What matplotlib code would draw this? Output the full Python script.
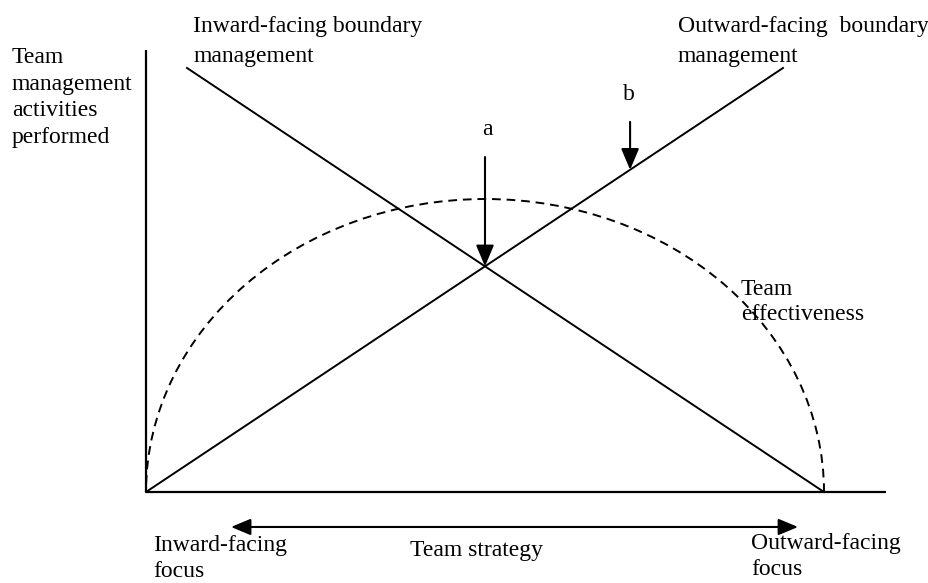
import matplotlib
matplotlib.use("Agg")
import matplotlib.pyplot as plt
from matplotlib.patches import Arc, FancyArrowPatch

plt.rcParams['font.family'] = ['Liberation Serif', 'DejaVu Serif']

# team strategy runs from 0 (inward-facing focus) to 1 (outward-facing focus)
inward_x = [0.0605, 1.0]
inward_y = [1.0, 0.0]
outward_x = [0.0, 0.9395]
outward_y = [0.0, 1.0]
effectiveness_peak = 0.691
axis_x_end = 1.091
axis_y_end = 1.042

# points a and b : strategy position and top of arrow
point_a = 0.5
point_a_top = 0.790
point_b = 0.714
point_b_top = 0.873

strategy_range = [0.1254, 0.9617]
strategy_y = -0.0825


def px(x):
    return (x - 146) / 678.0


def py(y):
    return (492 - y) / 424.0


def fleche(ax, x0, y0, x1, y1, hl=13, hw=5.5):
    a = FancyArrowPatch((x0, y0), (x1, y1),
                        arrowstyle="-|>,head_length=%s,head_width=%s" % (hl, hw),
                        mutation_scale=1, color="black", lw=1.5,
                        shrinkA=0, shrinkB=0)
    ax.add_patch(a)


fig = plt.figure(figsize=(9.29, 5.83), dpi=100)
ax = fig.add_axes([0, 0, 1, 1])
ax.set_xlim(px(0), px(929))
ax.set_ylim(py(583), py(0))
ax.axis("off")

# axes of the diagram
ax.plot([0, axis_x_end], [0, 0], color="black", lw=1.6, solid_capstyle="butt")
ax.plot([0, 0], [0, axis_y_end], color="black", lw=1.6, solid_capstyle="butt")

ax.plot(inward_x, inward_y, color="black", lw=1.4)
ax.plot(outward_x, outward_y, color="black", lw=1.4)

arc = Arc((0.5, 0), 1.0, 2 * effectiveness_peak, theta1=0, theta2=180,
          color="black", lw=1.4, linestyle=(0, (4.5, 3)))
ax.add_patch(arc)

# intersection of the two lines at point a
slope = outward_y[1] / outward_x[1]
fleche(ax, point_a, point_a_top, point_a, point_a * slope)
fleche(ax, point_b, point_b_top, point_b, point_b * slope)

# team strategy double arrow
a = FancyArrowPatch((strategy_range[0], strategy_y), (strategy_range[1], strategy_y),
                    arrowstyle="<|-|>,head_length=12,head_width=5",
                    mutation_scale=1, color="black", lw=1.5,
                    shrinkA=0, shrinkB=0)
ax.add_patch(a)

# va baseline = baseline of the last line
fs = 17
ax.text(px(12), py(143), "Team\nmanagement\nactivities\nperformed", fontsize=fs,
        ha="left", va="baseline", linespacing=1.35)
ax.text(px(193), py(62), "Inward-facing boundary\nmanagement", fontsize=fs,
        ha="left", va="baseline", linespacing=1.55)
ax.text(px(678), py(62), "Outward-facing  boundary\nmanagement", fontsize=fs,
        ha="left", va="baseline", linespacing=1.55)
ax.text(px(487), py(135), "a", fontsize=fs, ha="center", va="baseline")
ax.text(px(629), py(100), "b", fontsize=fs, ha="center", va="baseline")
ax.text(px(741), py(320), "Team\neffectiveness", fontsize=fs,
        ha="left", va="baseline", linespacing=1.25)
ax.text(px(153), py(577), "Inward-facing\nfocus", fontsize=fs,
        ha="left", va="baseline", linespacing=1.3)
ax.text(px(410), py(556), "Team strategy", fontsize=fs,
        ha="left", va="baseline")
ax.text(px(751), py(575), "Outward-facing\nfocus", fontsize=fs,
        ha="left", va="baseline", linespacing=1.3)

plt.savefig("out.png", dpi=100)
